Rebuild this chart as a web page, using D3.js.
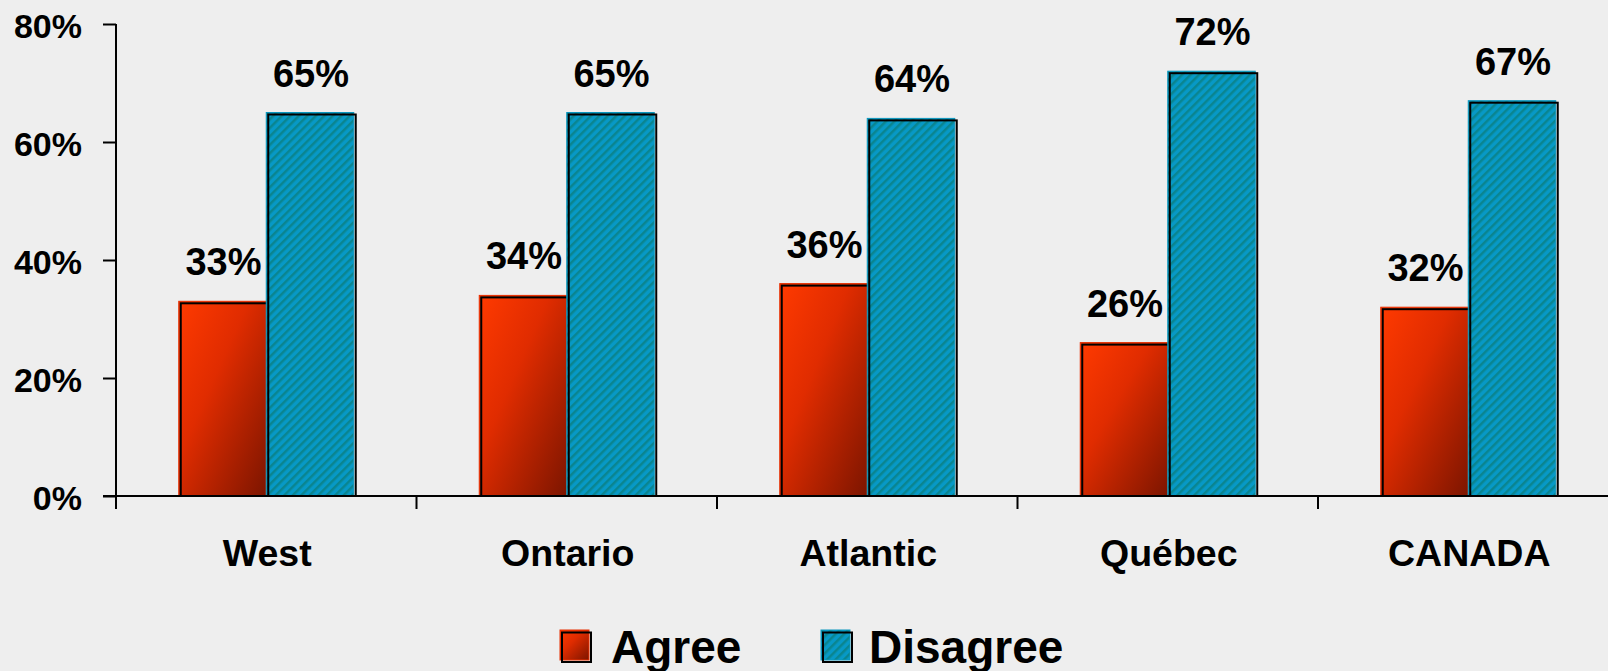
<!DOCTYPE html>
<html>
<head>
<meta charset="utf-8">
<script src="https://cdn.jsdelivr.net/npm/d3@7"></script>
<style>
  html, body { margin: 0; padding: 0; background: #eeeeee; }
  svg { display: block; }
  text { font-family: "Liberation Sans", Arial, sans-serif; font-weight: bold; fill: #000; }
</style>
</head>
<body>
<svg id="chart" width="1608" height="671"></svg>
<script>
const categories = ["West", "Ontario", "Atlantic", "Québec", "CANADA"];
const series = ["Agree", "Disagree"];
const agreeValues = [33, 34, 36, 26, 32];
const disagreeValues = [65, 65, 64, 72, 67];
const yTicks = [0, 20, 40, 60, 80];

const W = 1608, H = 671;
const svg = d3.select("#chart");

const defs = svg.append("defs");
const grad = defs.append("linearGradient").attr("id", "redGrad")
  .attr("x1", 0).attr("y1", 0).attr("x2", 1).attr("y2", 1);
grad.append("stop").attr("offset", "0%").attr("stop-color", "#ff3a00");
grad.append("stop").attr("offset", "40%").attr("stop-color", "#e02c00");
grad.append("stop").attr("offset", "100%").attr("stop-color", "#7c1500");

const pat = defs.append("pattern").attr("id", "tealPat")
  .attr("patternUnits", "userSpaceOnUse").attr("width", 6).attr("height", 6)
  .attr("patternTransform", "rotate(45)");
pat.append("rect").attr("width", 6).attr("height", 6).attr("fill", "#0799c6");
pat.append("rect").attr("width", 2.5).attr("height", 6).attr("fill", "#0a8590");

const fills = { Agree: "url(#redGrad)", Disagree: "url(#tealPat)" };
const edge = { Agree: "#e62e00", Disagree: "#0a96bd" };

const x0Left = 116, bandW = 300.5;
const x = d3.scaleBand().domain(categories).range([x0Left, x0Left + bandW * categories.length]).padding(0);
const barW = 87.5;
const x1 = d3.scaleBand().domain(series).range([x.bandwidth() / 2 - barW, x.bandwidth() / 2 + barW]).padding(0);
const y = d3.scaleLinear().domain([0, 80]).range([496, 24]);

const data = categories.map((c, i) => ({ cat: c, vals: [
  { s: "Agree", v: agreeValues[i] }, { s: "Disagree", v: disagreeValues[i] } ] }));

// bars
const g = svg.append("g");
const groups = g.selectAll("g.grp").data(data).join("g")
  .attr("transform", d => `translate(${x(d.cat)},0)`);
const bars = groups.selectAll("g.bar").data(d => d.vals).join("g");
bars.append("rect")
  .attr("x", d => x1(d.s)).attr("y", d => y(d.v))
  .attr("width", x1.bandwidth()).attr("height", d => y(0) - y(d.v))
  .attr("fill", d => fills[d.s]).attr("stroke", d => edge[d.s]).attr("stroke-width", 1);
bars.append("rect")
  .attr("x", d => x1(d.s) + 2).attr("y", d => y(d.v) + 2)
  .attr("width", x1.bandwidth()).attr("height", d => y(0) - y(d.v) - 2)
  .attr("fill", "none").attr("stroke", "#000").attr("stroke-width", 2);
bars.append("text")
  .attr("x", d => x1(d.s) + x1.bandwidth() / 2 + 1)
  .attr("y", d => y(d.v) - 26)
  .attr("text-anchor", "middle").attr("font-size", 38)
  .text(d => d.v + "%");

// y axis
const yAxis = d3.axisLeft(y).tickValues(yTicks).tickFormat(d => d + "%").tickSize(13).tickPadding(21);
const ya = svg.append("g").attr("transform", `translate(${x0Left},0)`).call(yAxis);
ya.select(".domain").attr("d", `M0,${y(80)}V${y(0) + 13}`).attr("stroke", "#000").attr("stroke-width", 2);
ya.selectAll(".tick line").attr("stroke", "#000").attr("stroke-width", 2);
ya.selectAll(".tick text").attr("font-size", 34).attr("font-family", "Liberation Sans, Arial, sans-serif")
  .attr("font-weight", "bold").attr("fill", "#000").attr("dy", "0.4em");

// x axis
const xa = svg.append("g").attr("transform", `translate(0,${y(0)})`);
xa.append("line").attr("x1", x0Left - 13).attr("x2", W).attr("y1", 0).attr("y2", 0)
  .attr("stroke", "#000").attr("stroke-width", 2);
xa.selectAll("line.tk").data(categories).join("line").attr("class", "tk")
  .attr("x1", d => x(d)).attr("x2", d => x(d)).attr("y1", 0).attr("y2", 13)
  .attr("stroke", "#000").attr("stroke-width", 2);
xa.selectAll("text.cat").data(categories).join("text").attr("class", "cat")
  .attr("x", d => x(d) + x.bandwidth() / 2 + 1).attr("y", 70)
  .attr("text-anchor", "middle").attr("font-size", 37.5).text(d => d);

// legend
const legendItems = [
  { s: "Agree", bx: 560, tx: 611 },
  { s: "Disagree", bx: 821, tx: 869 }
];
const lg = svg.append("g");
legendItems.forEach(it => {
  lg.append("rect").attr("x", it.bx).attr("y", 630).attr("width", 29).attr("height", 30)
    .attr("fill", fills[it.s]).attr("stroke", edge[it.s]).attr("stroke-width", 1);
  lg.append("rect").attr("x", it.bx + 2).attr("y", 632.5).attr("width", 29).attr("height", 29.5)
    .attr("fill", "none").attr("stroke", "#000").attr("stroke-width", 2);
  lg.append("text").attr("x", it.tx).attr("y", 663).attr("font-size", 46).text(it.s);
});
</script>
</body>
</html>
